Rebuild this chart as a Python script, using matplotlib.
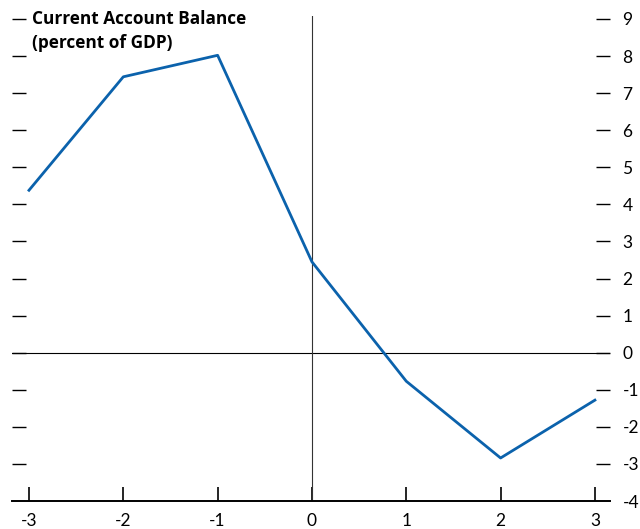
import matplotlib
matplotlib.use('Agg')
import matplotlib.pyplot as plt

# data
years = [-3, -2, -1, 0, 1, 2, 3]
balance = [4.38, 7.44, 8.02, 2.45, -0.77, -2.84, -1.28]
yticks = list(range(-4, 10))
xticks = list(range(-3, 4))

plt.rcParams['font.family'] = ['Lato', 'DejaVu Sans']

fig = plt.figure(figsize=(6.4, 5.29), dpi=100)
ax = fig.add_axes([12 / 640, 28 / 529, 598 / 640, 485 / 529])

ax.plot(years, balance, color='#0b62ac', linewidth=2.0, zorder=3)
ax.axhline(0, color='black', linewidth=0.8, zorder=2)
ax.axvline(0, color='#333333', linewidth=0.8, zorder=2)

ax.set_xlim(-3.18, 3.16)
ax.set_ylim(-4, 9.08)

for side in ['top', 'left', 'right']:
    ax.spines[side].set_visible(False)
ax.spines['bottom'].set_linewidth(1.4)

ax.set_xticks(xticks)
ax.set_xticklabels([str(v) for v in xticks])
ax.set_yticks(yticks)
ax.set_yticklabels([str(v) for v in yticks])

ax.tick_params(axis='x', direction='in', length=10, width=1.2, pad=9,
               labelsize=12.5, colors='black')
ax.tick_params(axis='y', direction='in', length=10, width=1.0, pad=9,
               labelsize=12.5, left=True, right=True,
               labelleft=False, labelright=True)
for t in ax.yaxis.get_major_ticks()[:1]:
    t.tick1line.set_visible(False)
    t.tick2line.set_visible(False)

ax.text(32 / 640, 1 - 10 / 529, 'Current Account Balance\n(percent of GDP)',
        transform=fig.transFigure, ha='left', va='top',
        family=['Open Sans', 'DejaVu Sans'],
        fontsize=12.4, fontweight='bold', linespacing=1.4)

plt.savefig('out.png', dpi=100)
